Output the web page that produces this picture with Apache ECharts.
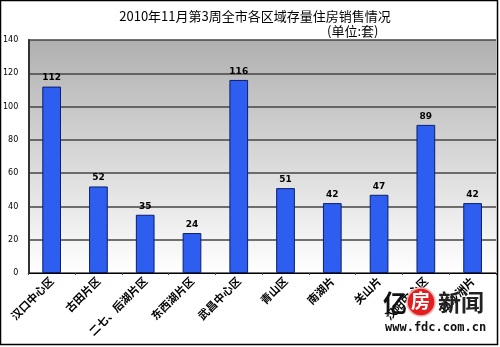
<!DOCTYPE html>
<html><head><meta charset="utf-8">
<script src="https://cdn.jsdelivr.net/npm/echarts@6/dist/echarts.min.js"></script>
<style>html,body{margin:0;padding:0;background:#fff}#c{width:500px;height:347px}</style>
</head><body><div id="c"></div>
<script>
const categories = ['汉口中心区','古田片区','二七、后湖片区','东西湖片区','武昌中心区','青山区','南湖片','关山片','汉阳中心区','白沙洲片'];
const values = [112,52,35,24,116,51,42,47,89,42];
const yTicks = [0,20,40,60,80,100,120,140];

const chart = echarts.init(document.getElementById('c'));
chart.setOption({
  animation:false,
  backgroundColor:'#fff',
  title:[
    {text:'2010年11月第3周全市各区域存量住房销售情况',left:250,top:5,textAlign:'center',
     textStyle:{fontFamily:'Noto Sans CJK SC',fontSize:13,fontWeight:'normal',color:'#000'}},
    {text:'(单位:套)',left:322,top:20,
     textStyle:{fontFamily:'Noto Sans CJK SC',fontSize:13,fontWeight:'normal',color:'#000'}}
  ],
  grid:{left:28,right:4,top:40,bottom:74,show:true,borderWidth:0,
    backgroundColor:new echarts.graphic.LinearGradient(0,0,0,1,[{offset:0,color:'#b0b0b0'},{offset:1,color:'#ffffff'}])},
  xAxis:{type:'category',data:categories,
    axisLine:{lineStyle:{color:'#000',width:1}},
    axisTick:{show:true,alignWithLabel:false,length:2,lineStyle:{color:'#444'}},
    axisLabel:{rotate:45,interval:0,margin:6,fontFamily:'Noto Sans CJK SC',fontSize:11,fontWeight:'bold',color:'#000'}},
  yAxis:{type:'value',min:0,max:140,interval:20,
    axisLine:{show:true,lineStyle:{color:'#333',width:2}},
    axisTick:{show:false},
    splitLine:{lineStyle:{color:'#444',width:1.5}},
    axisLabel:{margin:10,fontFamily:'DejaVu Sans',fontSize:8,color:'#000',
      formatter:v=>yTicks.includes(v)?String(v):''}},
  series:[{type:'bar',data:values,barWidth:'40%',
    itemStyle:{color:'#2e5ef0',borderColor:'#0a1f6e',borderWidth:1},
    label:{show:true,position:'top',distance:4,fontFamily:'DejaVu Sans',fontWeight:'bold',fontSize:9,color:'#000'}}],
  graphic:[
    {type:'rect',shape:{x:0.5,y:0.5,width:497,height:344},style:{fill:'none',stroke:'#000',lineWidth:1.5},silent:true,z:100},
    {type:'text',left:383,top:291,style:{text:'亿',font:'bold 24px "Noto Sans CJK SC"',fill:'#111'},z:50},
    {type:'circle',shape:{cx:421,cy:302,r:14},style:{fill:'#e02020',stroke:'#f2b0b0',lineWidth:1.5},z:50},
    {type:'text',left:411,top:291,style:{text:'房',font:'bold 19px "Noto Sans CJK SC"',fill:'#fff'},z:51},
    {type:'text',left:438,top:291,style:{text:'新闻',font:'bold 23px "Noto Sans CJK SC"',fill:'#222'},z:50},
    {type:'text',left:385,top:322,style:{text:'www.fdc.com.cn',font:'bold 12px "DejaVu Sans Mono"',fill:'#111'},z:50}
  ]
});
</script></body></html>
